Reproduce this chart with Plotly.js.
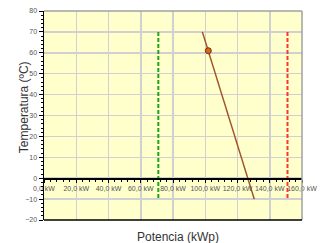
<!DOCTYPE html>
<html><head><meta charset="utf-8">
<script src="https://cdn.plot.ly/plotly-3.0.1.min.js"></script>
<style>html,body{margin:0;padding:0;background:#fff}#c{width:322px;height:243px}</style>
</head><body><div id="c"></div>
<script>
var xTickVals = [0, 20, 40, 60, 80, 100, 120, 140, 160];
var xTickText = ["0,0 kW", "20,0 kW", "40,0 kW", "60,0 kW", "80,0 kW", "100,0 kW", "120,0 kW", "140,0 kW", "160,0 kW"];
var yTickVals = [-20, -10, 0, 10, 20, 30, 40, 50, 60, 70, 80];

var greenX = [70.9, 70.9], greenY = [70, -10];
var redX = [151, 151], redY = [70, -10];
var curveX = [98.2, 130.4], curveY = [70, -10];
var pointX = [101.9], pointY = [61];

var traces = [
  {x: greenX, y: greenY, mode: 'lines', line: {color: '#22a022', width: 2, dash: '4px,2px'}, hoverinfo: 'none'},
  {x: redX, y: redY, mode: 'lines', line: {color: '#ff3333', width: 2, dash: '4px,2px'}, hoverinfo: 'none'},
  {x: curveX, y: curveY, mode: 'lines', line: {color: '#a0522d', width: 1.5}, hoverinfo: 'none'},
  {x: pointX, y: pointY, mode: 'markers', marker: {color: '#d2691e', size: 6, line: {color: '#8b2500', width: 1}}, hoverinfo: 'none'}
];

var tickFont = {family: 'Liberation Sans, Arial, sans-serif', size: 7, color: '#555'};
var layout = {
  width: 322, height: 243,
  margin: {l: 44, r: 20, t: 11, b: 23, pad: 0},
  paper_bgcolor: '#ffffff', plot_bgcolor: '#ffffcc',
  showlegend: false,
  xaxis: {
    range: [0, 160], anchor: 'free', position: 0.2,
    tickvals: xTickVals, ticktext: xTickText,
    showgrid: true, gridcolor: '#d0d0d0', gridwidth: 1.5,
    showline: true, linecolor: '#000', linewidth: 1.5,
    ticks: 'outside', ticklen: 3, tickcolor: '#000',
    minor: {dtick: 4, ticks: 'outside', ticklen: 2, tickcolor: '#000', showgrid: false},
    zeroline: false, tickfont: tickFont, fixedrange: true
  },
  yaxis: {
    range: [-20, 80], tickvals: yTickVals,
    showgrid: true, gridcolor: '#d0d0d0', gridwidth: 1.5,
    showline: true, linecolor: '#000', linewidth: 1.5,
    ticks: 'outside', ticklen: 4, tickcolor: '#000',
    minor: {dtick: 2, ticks: 'outside', ticklen: 2, tickcolor: '#000', showgrid: false},
    zeroline: false, tickfont: tickFont, fixedrange: true
  },
  shapes: [
    {type: 'line', xref: 'paper', yref: 'paper', x0: 0, x1: 1, y0: 1, y1: 1, line: {color: '#a0a0a0', width: 1.5}},
    {type: 'line', xref: 'paper', yref: 'paper', x0: 1, x1: 1, y0: 0, y1: 1, line: {color: '#a0a0a0', width: 1.5}},
    {type: 'line', xref: 'paper', yref: 'paper', x0: 0, x1: 1, y0: 0, y1: 0, line: {color: '#000', width: 1.5}}
  ],
  annotations: [
    {text: 'Potencia (kWp)', xref: 'paper', yref: 'paper', x: 0.52, y: 0, yshift: -17, showarrow: false,
     xanchor: 'center', yanchor: 'middle', font: {family: 'Liberation Sans, Arial, sans-serif', size: 12, color: '#333'}},
    {text: 'Temperatura (ºC)', xref: 'paper', yref: 'paper', x: 0, xshift: -20, y: 0.54, showarrow: false,
     textangle: -90, xanchor: 'center', yanchor: 'middle', font: {family: 'Liberation Sans, Arial, sans-serif', size: 12, color: '#333'}}
  ]
};
Plotly.newPlot('c', traces, layout, {displayModeBar: false, staticPlot: true});
</script>
</body></html>
